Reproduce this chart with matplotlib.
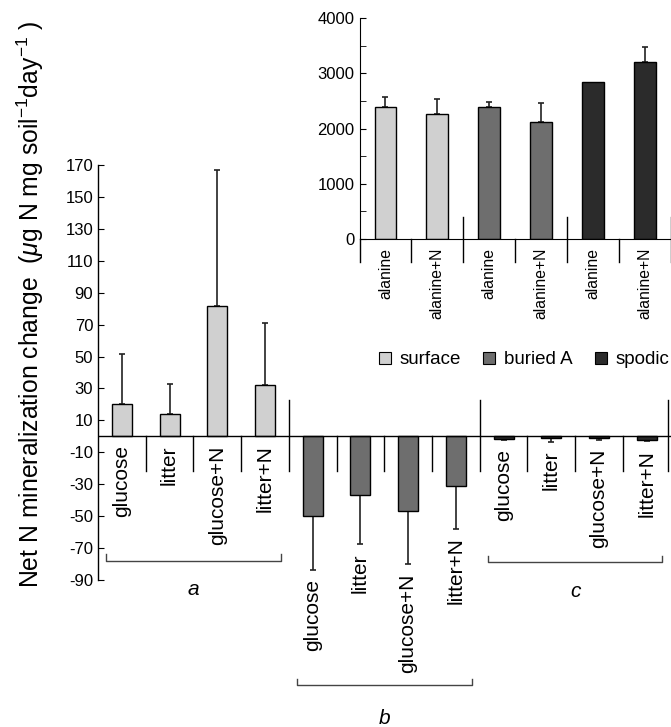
import numpy as np
import matplotlib
matplotlib.use('Agg')
import matplotlib.pyplot as plt
from matplotlib.patches import Patch

plt.rcParams['font.family'] = ['Liberation Sans', 'DejaVu Sans']
plt.rcParams['mathtext.fontset'] = 'custom'
plt.rcParams['mathtext.rm'] = 'Liberation Sans'
plt.rcParams['mathtext.it'] = 'Liberation Sans:italic'
plt.rcParams['axes.unicode_minus'] = False

# main panel: three horizons x four treatments
treatments = ['glucose', 'litter', 'glucose+N', 'litter+N']
groups = ['a', 'b', 'c']
surface_vals = [20.5, 14.2, 81.5, 32.3]
surface_err = [31.0, 18.8, 85.5, 38.8]
buried_vals = [-50.0, -36.5, -46.8, -31.3]
buried_err = [33.5, 31.2, 33.4, 26.5]
spodic_vals = [-1.5, -1.0, -1.2, -2.0]
spodic_err = [0.8, 2.5, 1.0, 1.0]

# inset: alanine additions
inset_labels = ['alanine', 'alanine+N'] * 3
inset_vals = [2395, 2268, 2384, 2123, 2847, 3209]
inset_err = [170, 266, 96, 339, 0, 272]

horizons = ['surface', 'buried A', 'spodic']
colors = ['#d0d0d0', '#6e6e6e', '#2b2b2b']

fig = plt.figure(figsize=(6.71, 7.27), dpi=100)

# ---------------- main axes ----------------
ax = fig.add_axes([98 / 671, 1 - 580 / 727, 572.5 / 671, 415 / 727])
vals = surface_vals + buried_vals + spodic_vals
errs = surface_err + buried_err + spodic_err
bar_colors = [colors[i // 4] for i in range(12)]
labels = treatments * 3
x = np.arange(12)

ax.bar(x, vals, width=0.42, color=bar_colors, edgecolor='black', linewidth=1, zorder=2)
for xi, v, e in zip(x, vals, errs):
    yerr = [[0], [e]] if v > 0 else [[e], [0]]
    ax.errorbar(xi, v, yerr=yerr, fmt='none', ecolor='#222222', elinewidth=1.2,
                capsize=2.5, capthick=1.2, zorder=1)
    low = min(0, v - e) if v < 0 else 0
    ax.annotate(labels[xi], xy=(xi, low), xytext=(0, -9), textcoords='offset pixels',
                rotation=90, ha='center', va='top', fontsize=15)

ax.axhline(0, color='black', lw=1, zorder=3)
for b in np.arange(0.5, 11, 1):
    top = 23 if b in (3.5, 7.5) else 0
    ax.plot([b, b], [top, -22], color='black', lw=1, zorder=3)
ax.plot([11.45, 11.45], [23, -22], color='black', lw=1, zorder=3, clip_on=False)

# group brackets
for g, (lvl, ty) in enumerate([(-78, -96), (-156, -176.5), (-79, -97.5)]):
    x0, x1 = g * 4 - 0.33, g * 4 + 3.33
    ax.plot([x0, x0, x1, x1], [lvl + 4, lvl, lvl, lvl + 4], color='#444444', lw=1, clip_on=False)
    ax.text(g * 4 + 1.5, ty, groups[g], ha='center', va='center', fontsize=15,
            style='italic', clip_on=False)

ax.set_xlim(-0.5, 11.5)
ax.set_ylim(-90, 170)
ax.set_yticks(np.arange(-90, 171, 20))
ax.tick_params(axis='y', direction='in', length=4, labelsize=12)
ax.set_xticks([])
for s in ['top', 'right', 'bottom']:
    ax.spines[s].set_visible(False)
ax.spines['left'].set_linewidth(1)

fig.text(30 / 671, 1 - 304 / 727,
         r'Net N mineralization change  ($\mathit{\mu}$g N mg soil$^{-1}$day$^{-1}$ )',
         rotation=90, ha='center', va='center', fontsize=17.8)

# ---------------- inset ----------------
axi = fig.add_axes([359.5 / 671, 1 - 239 / 727, 311.5 / 671, 220.7 / 727])
xi6 = np.arange(6)
inset_colors = [colors[i // 2] for i in range(6)]
axi.bar(xi6, inset_vals, width=0.42, color=inset_colors, edgecolor='black', linewidth=1, zorder=2)
for xx, v, e in zip(xi6, inset_vals, inset_err):
    if e > 0:
        axi.errorbar(xx, v, yerr=[[0], [e]], fmt='none', ecolor='#222222', elinewidth=1.2,
                     capsize=2.5, capthick=1.2, zorder=1)
    axi.annotate(inset_labels[xx], xy=(xx, 0), xytext=(0, -9), textcoords='offset pixels',
                 rotation=90, ha='center', va='top', fontsize=11.3)
for b in np.arange(-0.5, 6, 1):
    top = 400 if b in (1.5, 3.5, 5.5) else 0
    axi.plot([b, b], [top, -417], color='black', lw=1, clip_on=False, zorder=3)

axi.set_xlim(-0.5, 5.5)
axi.set_ylim(0, 4000)
axi.set_yticks(np.arange(0, 4001, 1000))
axi.set_yticks(np.arange(500, 4000, 1000), minor=True)
axi.tick_params(axis='y', which='both', direction='in', length=4, labelsize=12)
axi.set_xticks([])
for s in ['top', 'right']:
    axi.spines[s].set_visible(False)

# legend
handles = [Patch(facecolor=c, edgecolor='black', linewidth=0.8) for c in colors]
fig.legend(handles, horizons, loc='center left', bbox_to_anchor=(379 / 671, 1 - 360 / 727),
           ncol=3, frameon=False, fontsize=13.5, handlelength=0.64, handleheight=0.64,
           handletextpad=0.48, columnspacing=1.17, borderpad=0, borderaxespad=0)

fig.savefig('out.png', dpi=100)
